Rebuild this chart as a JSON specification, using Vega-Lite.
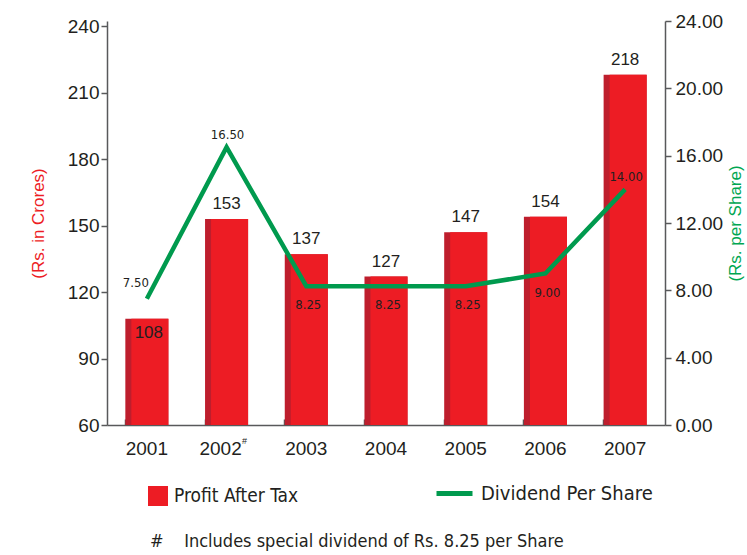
{
  "$schema": "https://vega.github.io/schema/vega-lite/v6.json",
  "width": 558,
  "height": 404,
  "autosize": {"type": "none"},
  "padding": {"left": 107, "top": 21, "right": 82, "bottom": 130},
  "background": "white",
  "config": {"view": {"stroke": null}, "font": "Liberation Sans"},
  "title": {
    "text": "#\u00a0\u00a0\u00a0\u00a0Includes special dividend of Rs. 8.25 per Share",
    "orient": "bottom",
    "anchor": "start",
    "frame": "group",
    "offset": 27,
    "dx": 43,
    "font": "DejaVu Sans Condensed",
    "fontSize": 18,
    "fontWeight": "normal",
    "color": "#231f20"
  },
  "data": {
    "values": [
      {"year": "2001", "profit": 108, "dividend": 7.5},
      {"year": "2002", "profit": 153, "dividend": 16.5},
      {"year": "2003", "profit": 137, "dividend": 8.25},
      {"year": "2004", "profit": 127, "dividend": 8.25},
      {"year": "2005", "profit": 147, "dividend": 8.25},
      {"year": "2006", "profit": 154, "dividend": 9.0},
      {"year": "2007", "profit": 218, "dividend": 14.0}
    ]
  },
  "layer": [
    {
      "encoding": {
        "x": {
          "field": "year",
          "type": "nominal",
          "sort": null,
          "scale": {"paddingInner": 0.46, "paddingOuter": 0.23},
          "axis": {
            "title": null,
            "labelAngle": 0,
            "ticks": false,
            "tickSize": 0,
            "labelPadding": 14,
            "labelFontSize": 19,
            "labelColor": "#231f20",
            "domainColor": "#58595b",
            "domainWidth": 1.5,
            "labelOffset": {"condition": {"test": "datum.value == '2002'", "value": -6}, "value": 0}
          }
        },
        "y": {
          "field": "profit",
          "type": "quantitative",
          "scale": {"domain": [60, 242.3], "nice": false, "zero": false},
          "axis": {
            "title": "(Rs. in  Crores)",
            "titleColor": "#ed1c24",
            "titleFontSize": 17,
            "titleFontWeight": "normal",
            "titlePadding": 20,
            "values": [60, 90, 120, 150, 180, 210, 240],
            "grid": false,
            "tickSize": 6,
            "tickColor": "#58595b",
            "tickWidth": 1.5,
            "labelPadding": 2,
            "labelFontSize": 19,
            "labelColor": "#231f20",
            "domainColor": "#58595b",
            "domainWidth": 1.5
          }
        }
      },
      "layer": [
        {
          "mark": {"type": "bar", "width": {"band": 1}, "color": "#be1e2d"},
          "encoding": {"y2": {"datum": 60}}
        },
        {
          "mark": {"type": "bar", "width": 37, "xOffset": 3},
          "encoding": {
            "y2": {"datum": 60},
            "fill": {
              "datum": "Profit After Tax",
              "scale": {"range": ["#ed1c24"]},
              "legend": {
                "orient": "none",
                "legendX": 41,
                "legendY": 465,
                "title": null,
                "symbolType": "square",
                "symbolSize": 400,
                "symbolOpacity": 1,
                "symbolStrokeWidth": 0,
                "labelFont": "DejaVu Sans Condensed",
                "labelFontSize": 19,
                "labelLimit": 300,
                "labelColor": "#231f20",
                "labelOffset": 6
              }
            }
          }
        },
        {
          "transform": [{"filter": "datum.year != '2001'"}],
          "mark": {"type": "text", "baseline": "bottom", "dy": -6, "fontSize": 17, "color": "#231f20"},
          "encoding": {"text": {"field": "profit", "type": "quantitative"}}
        },
        {
          "transform": [{"filter": "datum.year == '2001'"}],
          "mark": {"type": "text", "baseline": "top", "dy": 6, "dx": 2, "fontSize": 17, "color": "#231f20"},
          "encoding": {"text": {"field": "profit", "type": "quantitative"}}
        },
        {
          "transform": [{"filter": "datum.year == '2002'"}],
          "mark": {"type": "text", "baseline": "top", "dx": 18, "dy": 12, "fontSize": 9, "color": "#231f20"},
          "encoding": {"y": {"datum": 60}, "text": {"value": "#"}}
        }
      ]
    },
    {
      "encoding": {
        "x": {
          "field": "year",
          "type": "nominal",
          "sort": null,
          "axis": {
            "orient": "bottom",
            "title": null,
            "labels": false,
            "domain": false,
            "ticks": true,
            "bandPosition": 0,
            "tickSize": -6,
            "tickColor": "#58595b",
            "tickWidth": 1.5
          }
        },
        "y": {
          "field": "dividend",
          "type": "quantitative",
          "scale": {"domain": [0, 24], "nice": false},
          "axis": {
            "orient": "right",
            "title": "(Rs. per Share)",
            "titleColor": "#00a651",
            "titleFontSize": 17,
            "titleFontWeight": "normal",
            "titleAngle": 270,
            "titlePadding": 22,
            "values": [0, 4, 8, 12, 16, 20, 24],
            "format": ".2f",
            "grid": false,
            "tickSize": 6,
            "tickColor": "#58595b",
            "tickWidth": 1.5,
            "labelPadding": 4,
            "labelFontSize": 19,
            "labelColor": "#231f20",
            "domainColor": "#58595b",
            "domainWidth": 1.5
          }
        }
      },
      "layer": [
        {
          "mark": {"type": "line", "strokeWidth": 4.5, "strokeJoin": "miter"},
          "encoding": {
            "stroke": {
              "datum": "Dividend Per Share",
              "scale": {"range": ["#009a4e"]},
              "legend": {
                "orient": "none",
                "legendX": 327,
                "legendY": 452,
                "title": null,
                "symbolType": "stroke",
                "symbolSize": 1296,
                "symbolStrokeWidth": 5,
                "labelFont": "DejaVu Sans Condensed",
                "labelFontSize": 20,
                "labelLimit": 300,
                "labelColor": "#231f20",
                "labelOffset": 6
              }
            }
          }
        },
        {
          "transform": [{"filter": "datum.year == '2001'"}],
          "mark": {"type": "text", "baseline": "bottom", "dx": -11, "dy": -9, "font": "DejaVu Sans Condensed", "fontSize": 13, "color": "#231f20"},
          "encoding": {"text": {"field": "dividend", "type": "quantitative", "format": ".2f"}}
        },
        {
          "transform": [{"filter": "datum.year == '2002' || datum.year == '2007'"}],
          "mark": {"type": "text", "baseline": "bottom", "dy": -5, "dx": 1, "font": "DejaVu Sans Condensed", "fontSize": 13, "color": "#231f20"},
          "encoding": {"text": {"field": "dividend", "type": "quantitative", "format": ".2f"}}
        },
        {
          "transform": [{"filter": "datum.year >= '2003' && datum.year <= '2006'"}],
          "mark": {"type": "text", "baseline": "top", "dy": 13, "dx": 2, "font": "DejaVu Sans Condensed", "fontSize": 13, "color": "#231f20"},
          "encoding": {"text": {"field": "dividend", "type": "quantitative", "format": ".2f"}}
        }
      ]
    }
  ],
  "resolve": {"scale": {"y": "independent", "fill": "independent", "stroke": "independent"}, "axis": {"x": "independent"}}
}
